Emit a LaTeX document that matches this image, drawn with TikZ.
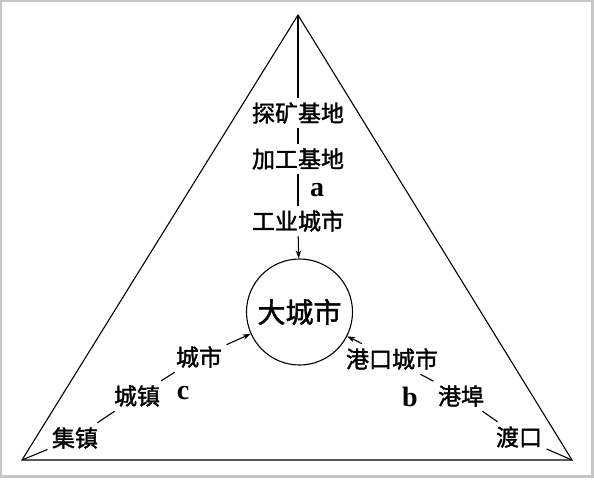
\documentclass[tikz,border=0pt]{standalone}
\usepackage{fontspec}
\usetikzlibrary{arrows.meta}
\setmainfont{Liberation Serif}
\newfontfamily\cjk[FakeBold=1.5]{Noto Sans CJK SC}
\begin{document}
\begin{tikzpicture}[>={Stealth[length=8pt,width=5.5pt]},x=1pt,y=-1pt,line width=1.1pt,
	place/.style={font=\cjk\fontsize{23}{23}\selectfont,inner sep=4pt},
	tag/.style={font=\bfseries\fontsize{28}{28}\selectfont,inner sep=0pt}]
	\useasboundingbox (0,0) rectangle (594,479);
	\draw[gray!45,line width=2.5pt] (1.2,1.2) rectangle (592.5,476.5);
	% triangle
	\coordinate (A) at (298,15);
	\coordinate (B) at (22,460);
	\coordinate (C) at (572,460);
	\draw (A)--(B)--(C)--cycle;
	\node[circle,draw,minimum size=106pt,inner sep=0pt,font=\cjk\fontsize{28}{28}\selectfont] (big) at (299.5,312) {大城市};
	% a
	\node[place] (tk) at (298,113) {探矿基地};
	\node[place] (jg) at (298,159) {加工基地};
	\node[place] (gy) at (298,221) {工业城市};
	\draw (A)--(tk);
	\draw (tk)--(jg);
	\draw (jg)--(gy);
	\draw[->] (gy)--(big);
	\node[tag] (a) at (317,190) {a};
	% c
	\node[place] (cs) at (199,357) {城市};
	\node[place] (cz) at (137,396) {城镇};
	\node[place] (jz) at (75,438) {集镇};
	\draw (B)--(jz);
	\draw (jz)--(cz);
	\draw (cz)--(cs);
	\draw[->] (cs)--(big);
	\node[tag] (c) at (183,393) {c};
	% b
	\node[place] (gk) at (392,359) {港口城市};
	\node[place] (gb) at (461,396) {港埠};
	\node[place] (dk) at (519,437) {渡口};
	\draw (C)--(dk);
	\draw (dk)--(gb);
	\draw (gb)--(gk);
	\draw[->] (gk)--(big);
	\node[tag] (b) at (410,397) {b};
\end{tikzpicture}
\end{document}
